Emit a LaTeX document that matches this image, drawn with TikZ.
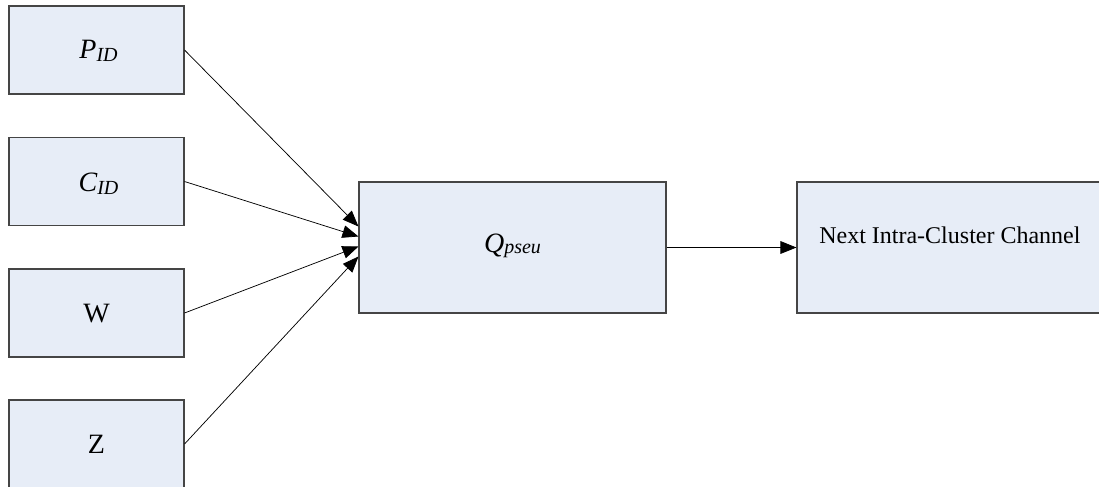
\documentclass[tikz,border=0pt]{standalone}
\usepackage{fontspec}
\setmainfont{Liberation Serif}
\usetikzlibrary{arrows.meta}
\definecolor{boxfill}{HTML}{E7EDF7}
\definecolor{boxline}{HTML}{454545}
\newcommand{\mysub}[2][2.6pt]{\raisebox{-#1}{\fontsize{15}{17}\selectfont\itshape #2}}
\tikzset{
  box/.style={draw=boxline, fill=boxfill, line width=0.8pt, rectangle, inner sep=0pt},
  small/.style={box, minimum width=131.25pt, minimum height=66pt},
  big/.style={box, minimum width=230.25pt, minimum height=98.25pt},
  conn/.style={draw=black, line width=0.55pt, -{Triangle[length=12pt, width=9.5pt]}},
  lbl/.style={font=\fontsize{21}{25}\selectfont, inner sep=0pt, anchor=base},
  nlbl/.style={font=\fontsize{18}{22}\selectfont, inner sep=0pt, anchor=base west}
}
\begin{document}
\begin{tikzpicture}[x=0.75pt, y=-0.75pt]
\useasboundingbox (0,0) rectangle (1099,486);
\clip (0,0) rectangle (1099,486);
\node[small] (P) at (96.5,50) {};
\node[small] (C) at (96.5,181.5) {};
\node[small] (W) at (96.5,313) {};
\node[small] (Z) at (96.5,444) {};
\node[big] (Q) at (512.5,247.5) {};
\node[big] (N) at (950.5,247.5) {};
\node[lbl] (Pt) at (98.5,58) {\itshape P\mysub{ID}};
\node[lbl] (Ct) at (98.5,191.5) {\itshape C\mysub{ID}};
\node[lbl] (Wt) at (96.5,322) {W};
\node[lbl] (Zt) at (96.5,453) {Z};
\node[lbl] (Qt) at (512.5,252) {\itshape Q\mysub[1pt]{pseu}};
\node[nlbl] (Nt) at (819,243) {Next Intra-Cluster Channel};
\coordinate (q1) at ([yshift=21pt*0.75]Q.west);
\coordinate (q2) at ([yshift=11pt*0.75]Q.west);
\coordinate (q3) at ([yshift=1pt*0.75]Q.west);
\coordinate (q4) at ([yshift=-9pt*0.75]Q.west);
\draw[conn] (P.east) -- (q1);
\draw[conn] (C.east) -- (q2);
\draw[conn] (W.east) -- (q3);
\draw[conn] (Z.east) -- (q4);
\draw[conn] (Q.east) -- (Q.east -| N.west);
\end{tikzpicture}
\end{document}
